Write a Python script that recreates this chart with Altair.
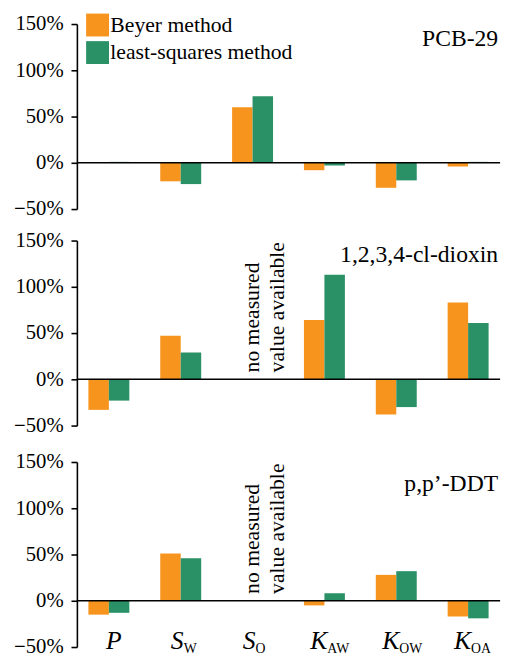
import altair as alt
import pandas as pd

SERIF = "Liberation Serif"

compounds = ["PCB-29", "1,2,3,4-cl-dioxin", "p,p\u2019-DDT"]
properties = ["P", "SW", "SO", "KAW", "KOW", "KOA"]
prop_main = ["P", "S", "S", "K", "K", "K"]
prop_sub = ["", "W", "O", "AW", "OW", "OA"]
methods = ["Beyer method", "least-squares method"]
colors = ["#F7941D", "#2A9066"]

beyer_pcb = [0, -20, 60, -8, -27, -4]
lsq_pcb = [1, -23, 72, -3, -19, 1]
beyer_dioxin = [-33, 47, None, 64, -38, 83]
lsq_dioxin = [-23, 29, None, 113, -30, 61]
beyer_ddt = [-15, 51, None, -5, 28, -17]
lsq_ddt = [-13, 46, None, 8, 32, -19]

series = {
    compounds[0]: (beyer_pcb, lsq_pcb),
    compounds[1]: (beyer_dioxin, lsq_dioxin),
    compounds[2]: (beyer_ddt, lsq_ddt),
}
note_lines = ["no measured", "value available"]

W, H = 430, 188

xscale = alt.Scale(domain=properties, paddingInner=0.43, paddingOuter=0.16)
yscale = alt.Scale(domain=[-50, 150], nice=False)


def panel(name, show_legend, show_x, title_y):
    b, l = series[name]
    rows = []
    missing = []
    for p, vb, vl in zip(properties, b, l):
        if vb is None and vl is None:
            missing.append(p)
            continue
        rows.append(dict(prop=p, method=methods[0], value=vb))
        rows.append(dict(prop=p, method=methods[1], value=vl))
    df = pd.DataFrame(rows)

    if show_legend:
        legend = alt.Legend(
            orient="none", legendX=9, legendY=-11, title=None,
            symbolType="square", symbolSize=540, symbolStrokeWidth=0,
            symbolOpacity=1, labelFont=SERIF, labelFontSize=22,
            labelColor="black", rowPadding=4, labelOffset=1, padding=0,
            labelLimit=400,
        )
    else:
        legend = None

    bars = alt.Chart(df).mark_bar(opacity=1).encode(
        x=alt.X("prop:N", scale=xscale, axis=None),
        xOffset=alt.XOffset("method:N", scale=alt.Scale(domain=methods)),
        y=alt.Y(
            "value:Q", scale=yscale,
            axis=alt.Axis(
                values=[-50, 0, 50, 100, 150],
                labelExpr="format(datum.value, 'd') + '%'",
                title=None, grid=False,
            ),
        ),
        color=alt.Color("method:N", scale=alt.Scale(domain=methods, range=colors), legend=legend),
    )

    zero = alt.Chart(pd.DataFrame({"z": [0]})).mark_rule(
        color="black", strokeWidth=1.6
    ).encode(y=alt.Y("z:Q", scale=yscale))

    title = alt.Chart(pd.DataFrame({"t": [name]})).mark_text(
        align="right", baseline="middle", font=SERIF, fontSize=24, color="black"
    ).encode(text="t:N", x=alt.value(W - 2), y=alt.value(title_y))

    layers = [bars, zero, title]

    if missing:
        ndf = pd.DataFrame({"prop": missing, "v": [0] * len(missing)})
        note = alt.Chart(ndf).mark_text(
            angle=270, align="left", baseline="middle", dx=7,
            font=SERIF, fontSize=22, lineHeight=25, color="black",
        ).encode(
            x=alt.X("prop:N", scale=xscale, axis=None),
            y=alt.Y("v:Q", scale=yscale),
            text=alt.value(note_lines),
        )
        layers.append(note)

    if show_x:
        ldf = pd.DataFrame({"prop": properties, "main": prop_main, "sub": prop_sub, "v": [-50] * 6})
        with_sub = ldf[ldf["sub"] != ""]
        no_sub = ldf[ldf["sub"] == ""]
        main_t = alt.Chart(with_sub).mark_text(
            align="right", baseline="alphabetic", dx=3, dy=2,
            font=SERIF, fontSize=26, fontStyle="italic", color="black",
        ).encode(x=alt.X("prop:N", scale=xscale, axis=None),
                 y=alt.Y("v:Q", scale=yscale), text="main:N")
        main_p = alt.Chart(no_sub).mark_text(
            align="center", baseline="alphabetic", dx=5, dy=2,
            font=SERIF, fontSize=26, fontStyle="italic", color="black",
        ).encode(x=alt.X("prop:N", scale=xscale, axis=None),
                 y=alt.Y("v:Q", scale=yscale), text="main:N")
        sub_t = alt.Chart(with_sub).mark_text(
            align="left", baseline="alphabetic", dx=3, dy=6,
            font=SERIF, fontSize=14, color="black",
        ).encode(x=alt.X("prop:N", scale=xscale, axis=None),
                 y=alt.Y("v:Q", scale=yscale), text="sub:N")
        layers += [main_t, main_p, sub_t]

    return alt.layer(*layers).properties(width=W, height=H)


p1 = panel(compounds[0], True, False, 15)
p2 = panel(compounds[1], False, False, 15)
p3 = panel(compounds[2], False, True, 22)

inner = (
    alt.vconcat(p2, p3, spacing=37, bounds="flush")
    .resolve_legend(color="independent")
    .resolve_scale(color="independent")
)

chart = (
    alt.vconcat(p1, inner, spacing=32, bounds="flush",
                padding=alt.Padding(top=0, left=5, right=5, bottom=5))
    .resolve_legend(color="independent")
    .resolve_scale(color="independent")
    .configure_view(stroke=None)
    .configure_axis(
        domainColor="black", domainWidth=1.6, tickColor="black", tickWidth=1.6,
        tickSize=6, labelPadding=8, labelFont=SERIF, labelFontSize=21,
        labelColor="black",
    )
)

chart.save("out.html", embed_options={"renderer": "svg", "actions": False})
